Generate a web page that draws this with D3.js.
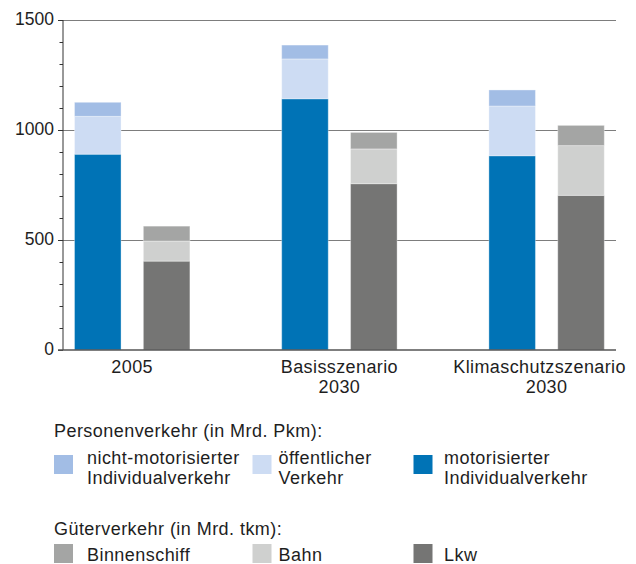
<!DOCTYPE html>
<html>
<head>
<meta charset="utf-8">
<script src="https://cdn.jsdelivr.net/npm/d3@7"></script>
<style>
  html, body { margin: 0; padding: 0; background: #fff; }
  svg { display: block; font-family: "Liberation Sans", Arial, Helvetica, sans-serif; }
</style>
</head>
<body>
<svg id="chart" width="636" height="564"></svg>
<script>
// ---- data ----
const categories = ["2005", "Basisszenario\n2030", "Klimaschutzszenario\n2030"];
// Personenverkehr (Mrd. Pkm)
const motorisierterIV = [890, 1142, 883];
const oeffentlicherVerkehr = [172, 181, 226];
const nichtMotorisierterIV = [64, 63, 73];
// Güterverkehr (Mrd. tkm)
const lkw = [404, 756, 703];
const bahn = [91, 158, 226];
const binnenschiff = [68, 75, 92];
const yTicks = [0, 500, 1000, 1500];

const groups = ["Personen", "Gueter"];
const personenKeys = ["motorisierter Individualverkehr", "öffentlicher Verkehr", "nicht-motorisierter Individualverkehr"];
const gueterKeys = ["Lkw", "Bahn", "Binnenschiff"];
const colors = {
  "motorisierter Individualverkehr": "#0073b6",
  "öffentlicher Verkehr": "#cddcf3",
  "nicht-motorisierter Individualverkehr": "#a2bde5",
  "Lkw": "#757574",
  "Bahn": "#cfd0cf",
  "Binnenschiff": "#a4a5a4"
};

const personenRows = categories.map((c, i) => ({
  cat: c,
  "motorisierter Individualverkehr": motorisierterIV[i],
  "öffentlicher Verkehr": oeffentlicherVerkehr[i],
  "nicht-motorisierter Individualverkehr": nichtMotorisierterIV[i]
}));
const gueterRows = categories.map((c, i) => ({
  cat: c, "Lkw": lkw[i], "Bahn": bahn[i], "Binnenschiff": binnenschiff[i]
}));

const svg = d3.select("#chart");
const textColor = "#1e1e1e";

// ---- scales ----
const y = d3.scaleLinear().domain([0, 1500]).range([350, 20]);
const xc = d3.scalePoint().domain(categories).range([132.2, 546.6]);
const xi = d3.scaleBand().domain(groups).range([-57.7, 57.7]).paddingInner(0.324);

// ---- gridlines ----
svg.append("g").selectAll("line").data(yTicks.filter(d => d > 0)).join("line")
  .attr("x1", 63).attr("x2", 616)
  .attr("y1", d => Math.round(y(d)) + 0.5).attr("y2", d => Math.round(y(d)) + 0.5)
  .attr("stroke", "#7d7d7d").attr("stroke-width", 1);

// ---- bars ----
function drawStack(rows, keys, grp) {
  const series = d3.stack().keys(keys)(rows);
  svg.append("g").selectAll("g").data(series).join("g")
    .attr("fill", d => colors[d.key])
    .selectAll("rect").data(d => d).join("rect")
      .attr("x", d => xc(d.data.cat) + xi(grp))
      .attr("width", xi.bandwidth())
      .attr("y", d => y(d[1]))
      .attr("height", d => y(d[0]) - y(d[1]))
      .attr("stroke", "rgba(255,255,255,0.35)")
      .attr("stroke-width", 1);
}
drawStack(personenRows, personenKeys, "Personen");
drawStack(gueterRows, gueterKeys, "Gueter");

// ---- y axis ----
const minorTicks = d3.range(0, 1501, 100);
const yAxisMinor = d3.axisLeft(y).tickValues(minorTicks).tickSize(3.5).tickFormat("");
const yAxisMajor = d3.axisLeft(y).tickValues(yTicks).tickSize(5).tickPadding(4).tickFormat(d3.format("d"));
const gMinor = svg.append("g").attr("transform", "translate(63,0)").call(yAxisMinor);
gMinor.select(".domain").remove();
gMinor.selectAll("line").attr("stroke", "#333");
const gMajor = svg.append("g").attr("transform", "translate(63,0)").call(yAxisMajor);
gMajor.select(".domain").attr("stroke", "#333").attr("d", `M0,${y(1500)}V${y(0)}`);
gMajor.selectAll("line").attr("stroke", "#333");
gMajor.selectAll("text")
  .attr("fill", textColor).attr("font-size", 17.5)
  .attr("dy", null).attr("y", 4.5)
  .attr("font-family", "'Liberation Sans', Arial, sans-serif");

// baseline
svg.append("line")
  .attr("x1", 58).attr("x2", 616)
  .attr("y1", y(0)).attr("y2", y(0))
  .attr("stroke", "#555").attr("stroke-width", 1.6);

// ---- category labels ----
const catLabelX = { "2005": 132.2, "Basisszenario\n2030": 339.7, "Klimaschutzszenario\n2030": 546.6 };
const catG = svg.append("g");
categories.forEach((c, i) => {
  const lines = c.split("\n");
  lines.forEach((ln, j) => {
    let cx = xc(c);
    if (i === categories.length - 1 && j === 0) cx -= 7; // kept inside right edge
    catG.append("text")
      .attr("x", cx).attr("y", 373 + j * 20)
      .attr("text-anchor", "middle")
      .attr("font-size", 18).attr("letter-spacing", 0.4)
      .attr("fill", textColor)
      .text(ln);
  });
});

// ---- legend ----
const leg = svg.append("g").attr("fill", textColor).attr("font-size", 18).attr("letter-spacing", 0.45);
leg.append("text").attr("x", 54).attr("y", 436.5).text("Personenverkehr (in Mrd. Pkm):");
leg.append("text").attr("x", 54).attr("y", 535).text("Güterverkehr (in Mrd. tkm):");

const legendItems1 = [
  { key: "nicht-motorisierter Individualverkehr", lines: ["nicht-motorisierter", "Individualverkehr"], sx: 54, tx: 87 },
  { key: "öffentlicher Verkehr", lines: ["öffentlicher", "Verkehr"], sx: 252.5, tx: 278.5 },
  { key: "motorisierter Individualverkehr", lines: ["motorisierter", "Individualverkehr"], sx: 413.5, tx: 444 }
];
const legendItems2 = [
  { key: "Binnenschiff", lines: ["Binnenschiff"], sx: 54, tx: 87 },
  { key: "Bahn", lines: ["Bahn"], sx: 252.5, tx: 278.5 },
  { key: "Lkw", lines: ["Lkw"], sx: 413.5, tx: 444 }
];
function drawLegendRow(items, sy, ty) {
  items.forEach(it => {
    leg.append("rect").attr("x", it.sx).attr("y", sy).attr("width", 19).attr("height", 19)
      .attr("fill", colors[it.key]);
    it.lines.forEach((ln, j) => {
      leg.append("text").attr("x", it.tx).attr("y", ty + j * 20).text(ln);
    });
  });
}
drawLegendRow(legendItems1, 455, 463.5);
drawLegendRow(legendItems2, 544, 560.5);
</script>
</body>
</html>
